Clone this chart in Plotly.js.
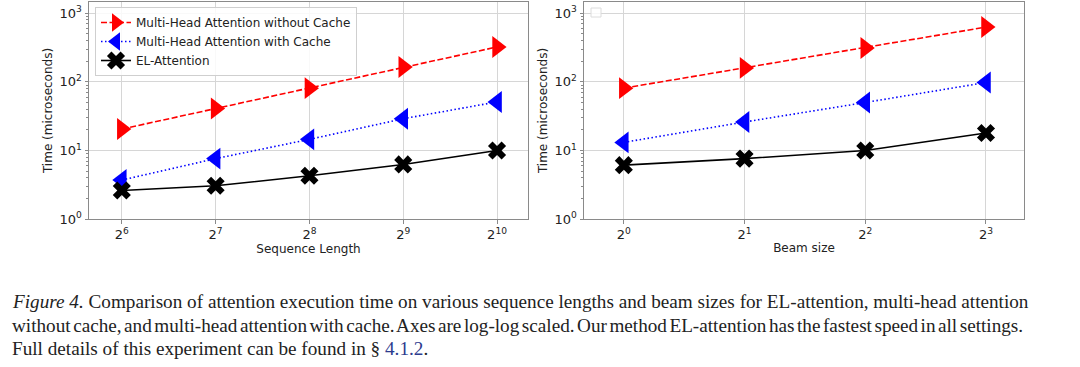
<!DOCTYPE html>
<html>
<head>
<meta charset="utf-8">
<script src="https://cdn.plot.ly/plotly-3.0.1.min.js"></script>
<style>
html, body { margin: 0; padding: 0; background: #fff; }
#chart { width: 1080px; height: 367px; }
</style>
</head>
<body>
<div id="chart"></div>
<script>
// ---- data ----
const seqLengths = [64, 128, 256, 512, 1024];
const seqNoCache = [20.5, 41, 81, 165, 323];
const seqWithCache = [3.7, 7.6, 14.5, 29, 51];
const seqEL = [2.6, 3.05, 4.27, 6.25, 10];

const beamSizes = [1, 2, 4, 8];
const beamNoCache = [81, 160, 312, 630];
const beamWithCache = [13.1, 26, 50, 98];
const beamEL = [6.1, 7.6, 10, 18];

const seqTickVals = [64, 128, 256, 512, 1024];
const seqTickText = ['2<sup>6</sup>', '2<sup>7</sup>', '2<sup>8</sup>', '2<sup>9</sup>', '2<sup>10</sup>'];
const beamTickVals = [1, 2, 4, 8];
const beamTickText = ['2<sup>0</sup>', '2<sup>1</sup>', '2<sup>2</sup>', '2<sup>3</sup>'];
const yTickVals = [1, 10, 100, 1000];
const yTickText = ['10<sup>0</sup>', '10<sup>1</sup>', '10<sup>2</sup>', '10<sup>3</sup>'];
const yMinorVals = [2,3,4,5,6,7,8,9,20,30,40,50,60,70,80,90,200,300,400,500,600,700,800,900];

const seriesNames = ['Multi-Head Attention without Cache', 'Multi-Head Attention with Cache', 'EL-Attention'];

// ---- styles ----
const FONT = 'DejaVu Sans, sans-serif';
const styles = [
  {color: '#ff0000', dash: '6px,2.5px', symbol: 'triangle-right', size: 19},
  {color: '#0000ff', dash: '1.5px,2.5px', symbol: 'triangle-left', size: 19},
  {color: '#000000', dash: 'solid', symbol: 'x', size: 16}
];

function mkTrace(x, y, i, xa, ya, showlegend) {
  const s = styles[i];
  return {
    x: x, y: y, type: 'scatter', mode: 'lines+markers',
    name: seriesNames[i], legendgroup: 'g' + i, showlegend: showlegend,
    xaxis: xa, yaxis: ya,
    line: {color: s.color, width: 1.6, dash: s.dash},
    marker: {symbol: s.symbol, size: s.size, color: s.color, line: {width: 0}}
  };
}

const traces = [
  mkTrace(seqLengths, seqNoCache, 0, 'x', 'y', true),
  mkTrace(seqLengths, seqWithCache, 1, 'x', 'y', true),
  mkTrace(seqLengths, seqEL, 2, 'x', 'y', true),
  mkTrace(beamSizes, beamNoCache, 0, 'x2', 'y2', false),
  mkTrace(beamSizes, beamWithCache, 1, 'x2', 'y2', false),
  mkTrace(beamSizes, beamEL, 2, 'x2', 'y2', false)
];

const W = 1080, H = 367;
const L2 = Math.log10(2);

const axisBase = {
  type: 'log', showline: true, linecolor: '#8a8a8a', linewidth: 1, mirror: true,
  ticks: 'outside', ticklen: 3.5, tickcolor: '#8a8a8a', tickwidth: 1,
  showgrid: true, gridcolor: '#d6d6d6', gridwidth: 1, zeroline: false,
  tickfont: {family: FONT, size: 13, color: '#222'}, automargin: false
};

function yAxis(anchor, domain) {
  return Object.assign({}, axisBase, {
    anchor: anchor, domain: domain, range: [0, 3.165],
    tickmode: 'array', tickvals: yTickVals, ticktext: yTickText,
    minor: {ticks: 'outside', ticklen: 2, tickcolor: '#8a8a8a', tickmode: 'array', tickvals: yMinorVals, showgrid: false},
    title: {text: 'Time (microseconds)', font: {family: FONT, size: 12, color: '#222'}, standoff: 4}
  });
}

const yDom = [1 - 219 / H, 1 - 2 / H];

const caption1 = '<i>Figure 4.</i> Comparison of attention execution time on various sequence lengths and beam sizes for EL-attention, multi-head attention';
const caption2 = '<span style="word-spacing:-2.3px">without cache, and multi-head attention with cache. Axes are log-log scaled. Our method EL-attention has the fastest speed in all settings.</span>';
const caption3 = 'Full details of this experiment can be found in § <span style="color:#2d3b8e">4.1.2</span>.';

const capFont = {family: 'Liberation Serif, Times New Roman, serif', size: 19.2, color: '#222'};
function cap(text, ypx) {
  return {text: text, xref: 'paper', yref: 'paper', x: 10 / W, y: 1 - ypx / H,
          xanchor: 'left', yanchor: 'middle', showarrow: false, align: 'left', font: capFont};
}

const layout = {
  width: W, height: H,
  margin: {l: 0, r: 0, t: 0, b: 0},
  paper_bgcolor: '#fff', plot_bgcolor: '#fff',
  showlegend: true,
  xaxis: Object.assign({}, axisBase, {
    domain: [89 / W, 528 / W], anchor: 'y',
    range: [5.65 * L2, 10.33 * L2],
    tickmode: 'array', tickvals: seqTickVals, ticktext: seqTickText,
    title: {text: 'Sequence Length', font: {family: FONT, size: 12, color: '#222'}, standoff: 2}
  }),
  yaxis: yAxis('x', yDom),
  xaxis2: Object.assign({}, axisBase, {
    domain: [584 / W, 1024 / W], anchor: 'y2',
    range: [-0.33 * L2, 3.315 * L2],
    tickmode: 'array', tickvals: beamTickVals, ticktext: beamTickText,
    title: {text: 'Beam size', font: {family: FONT, size: 12, color: '#222'}, standoff: 2}
  }),
  yaxis2: yAxis('x2', yDom),
  legend: {
    x: 95 / W, y: 1 - 7 / H, xanchor: 'left', yanchor: 'top',
    bgcolor: 'rgba(255,255,255,0.85)', bordercolor: '#cfcfcf', borderwidth: 1,
    font: {family: FONT, size: 12, color: '#222'}, tracegroupgap: 0, itemwidth: 30
  },
  shapes: [
    {type: 'rect', xref: 'paper', yref: 'paper', x0: 591 / W, x1: 601 / W, y0: 1 - 17 / H, y1: 1 - 8 / H,
     line: {color: '#dcdcdc', width: 1}, fillcolor: 'rgba(255,255,255,0.8)'}
  ],
  annotations: [cap(caption1, 301), cap(caption2, 325), cap(caption3, 348)]
};

Plotly.newPlot('chart', traces, layout, {displayModeBar: false, staticPlot: true});
</script>
</body>
</html>
